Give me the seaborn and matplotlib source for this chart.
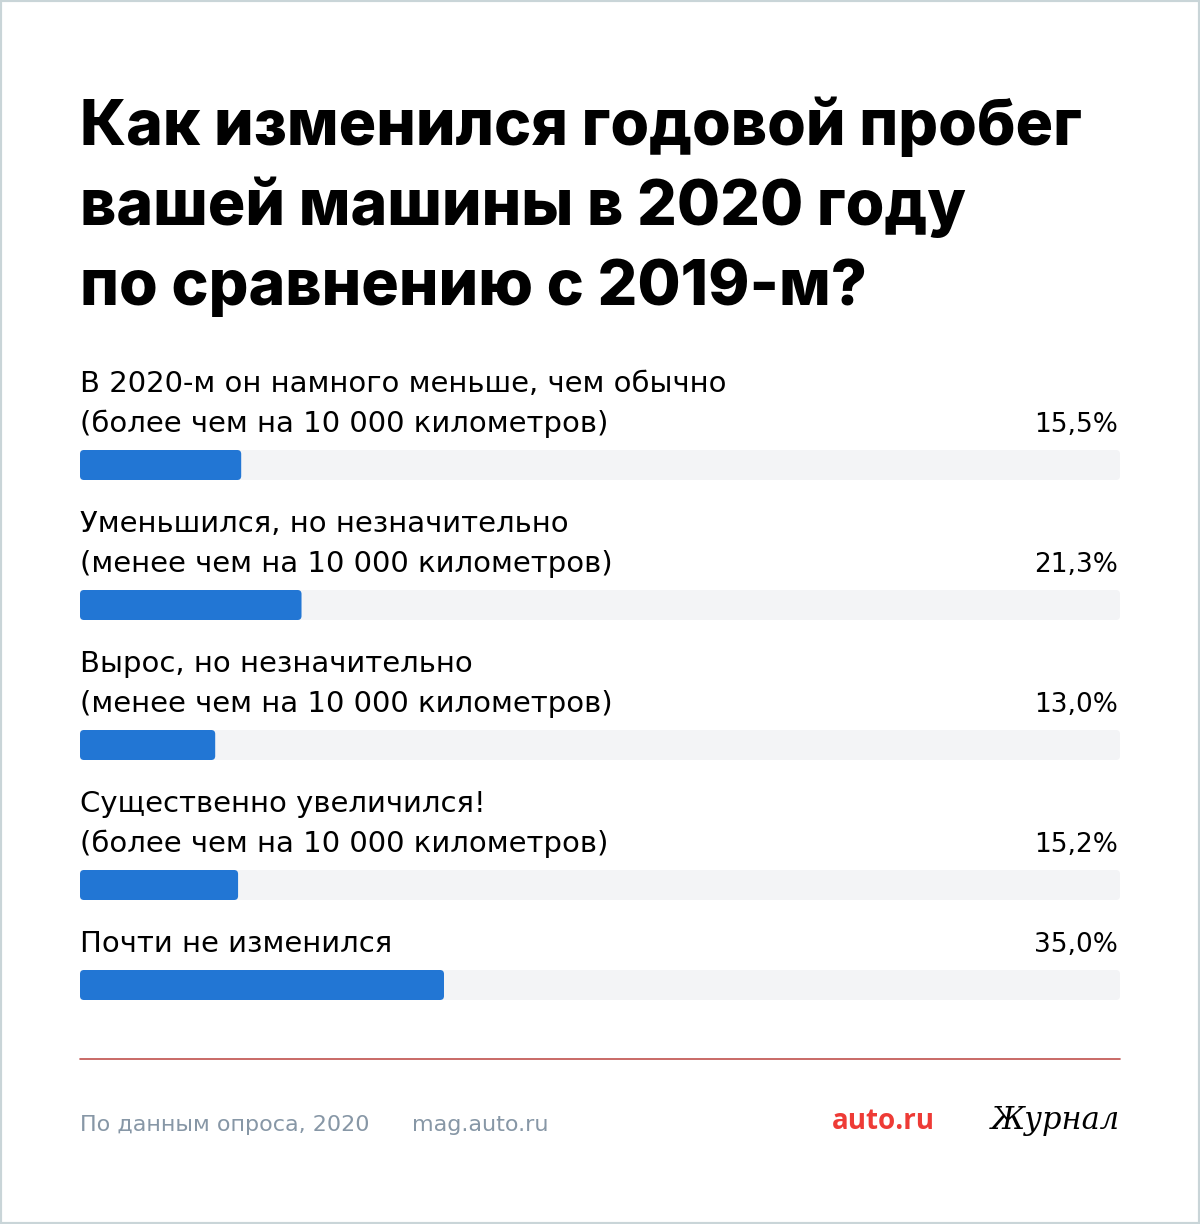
import matplotlib
matplotlib.use('Agg')
import matplotlib.pyplot as plt
import seaborn as sns
from matplotlib.patches import FancyBboxPatch, Rectangle
from matplotlib.lines import Line2D

# Data
title_lines = ["Как изменился годовой пробег",
               "вашей машины в 2020 году",
               "по сравнению с 2019-м?"]
answers = [
    "В 2020-м он намного меньше, чем обычно\n(более чем на 10 000 километров)",
    "Уменьшился, но незначительно\n(менее чем на 10 000 километров)",
    "Вырос, но незначительно\n(менее чем на 10 000 километров)",
    "Существенно увеличился!\n(более чем на 10 000 километров)",
    "Почти не изменился",
]
shares = [15.5, 21.3, 13.0, 15.2, 35.0]
share_labels = ["15,5%", "21,3%", "13,0%", "15,2%", "35,0%"]
source_text = "По данным опроса, 2020"
site_text = "mag.auto.ru"

W, H = 1200, 1224
BLUE = "#2276d4"
TRACK = "#f3f4f6"
GREY = "#8797a6"
BODY = ['DejaVu Sans']

sns.set_theme(style="white")
plt.rcParams['font.family'] = ['Open Sans', 'DejaVu Sans']

fig = plt.figure(figsize=(W / 100, H / 100), dpi=100)
fig.patch.set_facecolor("white")


def fx(x):
    return x / W


def fy(y):
    return 1 - y / H


# light frame round the card
fig.patches.append(Rectangle((0, 0), 1, 1, transform=fig.transFigure, fill=False,
                             edgecolor="#c9d5d8", linewidth=3))

# title
for i, line in enumerate(title_lines):
    fig.text(fx(80), fy(145 + i * 80), line, fontsize=45, fontweight=800,
             family=['Inter', 'DejaVu Sans'], color="black", ha="left",
             va="baseline")

# bars
left, right = 80, 1120
bar_h = 30
bar_top = 450
x_per_px = 100 / (right - left)
y_per_px = 1 / bar_h
for k, (ans, val, lab) in enumerate(zip(answers, shares, share_labels)):
    lines = ans.split("\n")
    n = len(lines)
    for j, ln in enumerate(lines):
        fig.text(fx(left), fy(bar_top - 18 - (n - 1 - j) * 40), ln, fontsize=21,
                 family=BODY, color="black", ha="left", va="baseline")
    fig.text(fx(right - 2), fy(bar_top - 18), lab, fontsize=19, family=BODY,
             color="black", ha="right", va="baseline")

    ax = fig.add_axes([fx(left), fy(bar_top + bar_h), fx(right - left), bar_h / H])
    sns.barplot(x=[100], y=[0], orient="h", color=TRACK, width=1, ax=ax,
                saturation=1)
    sns.barplot(x=[val], y=[0], orient="h", color=BLUE, width=1, ax=ax,
                saturation=1)
    ax.set_xlim(0, 100)
    ax.set_ylim(0.5, -0.5)
    ax.axis("off")
    # swap square bars for rounded ones
    for p in list(ax.patches):
        x0, y0 = p.get_x(), p.get_y()
        w, h = p.get_width(), p.get_height()
        fc = p.get_facecolor()
        p.remove()
        ax.add_patch(FancyBboxPatch((x0, y0), w, h,
                                    boxstyle="round,pad=0,rounding_size=%.3f" % (4 * x_per_px),
                                    mutation_aspect=y_per_px / x_per_px,
                                    facecolor=fc, edgecolor="none"))
    if k + 1 < len(answers):
        n_next = len(answers[k + 1].split("\n"))
        bar_top += bar_h + 30 + 40 * n_next

# divider
fig.add_artist(Line2D([fx(80), fx(1120)], [fy(1059), fy(1059)], color="#c0504d",
                      linewidth=1.2))

# footer
fig.text(fx(80), fy(1131), source_text, fontsize=16, family=BODY, color=GREY,
         ha="left", va="baseline")
fig.text(fx(412), fy(1131), site_text, fontsize=16, family=BODY, color=GREY,
         ha="left", va="baseline")
fig.text(fx(935), fy(1129), "auto.ru", fontsize=20, fontweight="bold",
         color="#ee3b36", ha="right", va="baseline")
fig.text(fx(1120), fy(1129), "Журнал", fontsize=22, fontstyle="italic",
         family=["DejaVu Serif"], color="black", ha="right", va="baseline")

fig.savefig("out.png", dpi=100, facecolor="white")
